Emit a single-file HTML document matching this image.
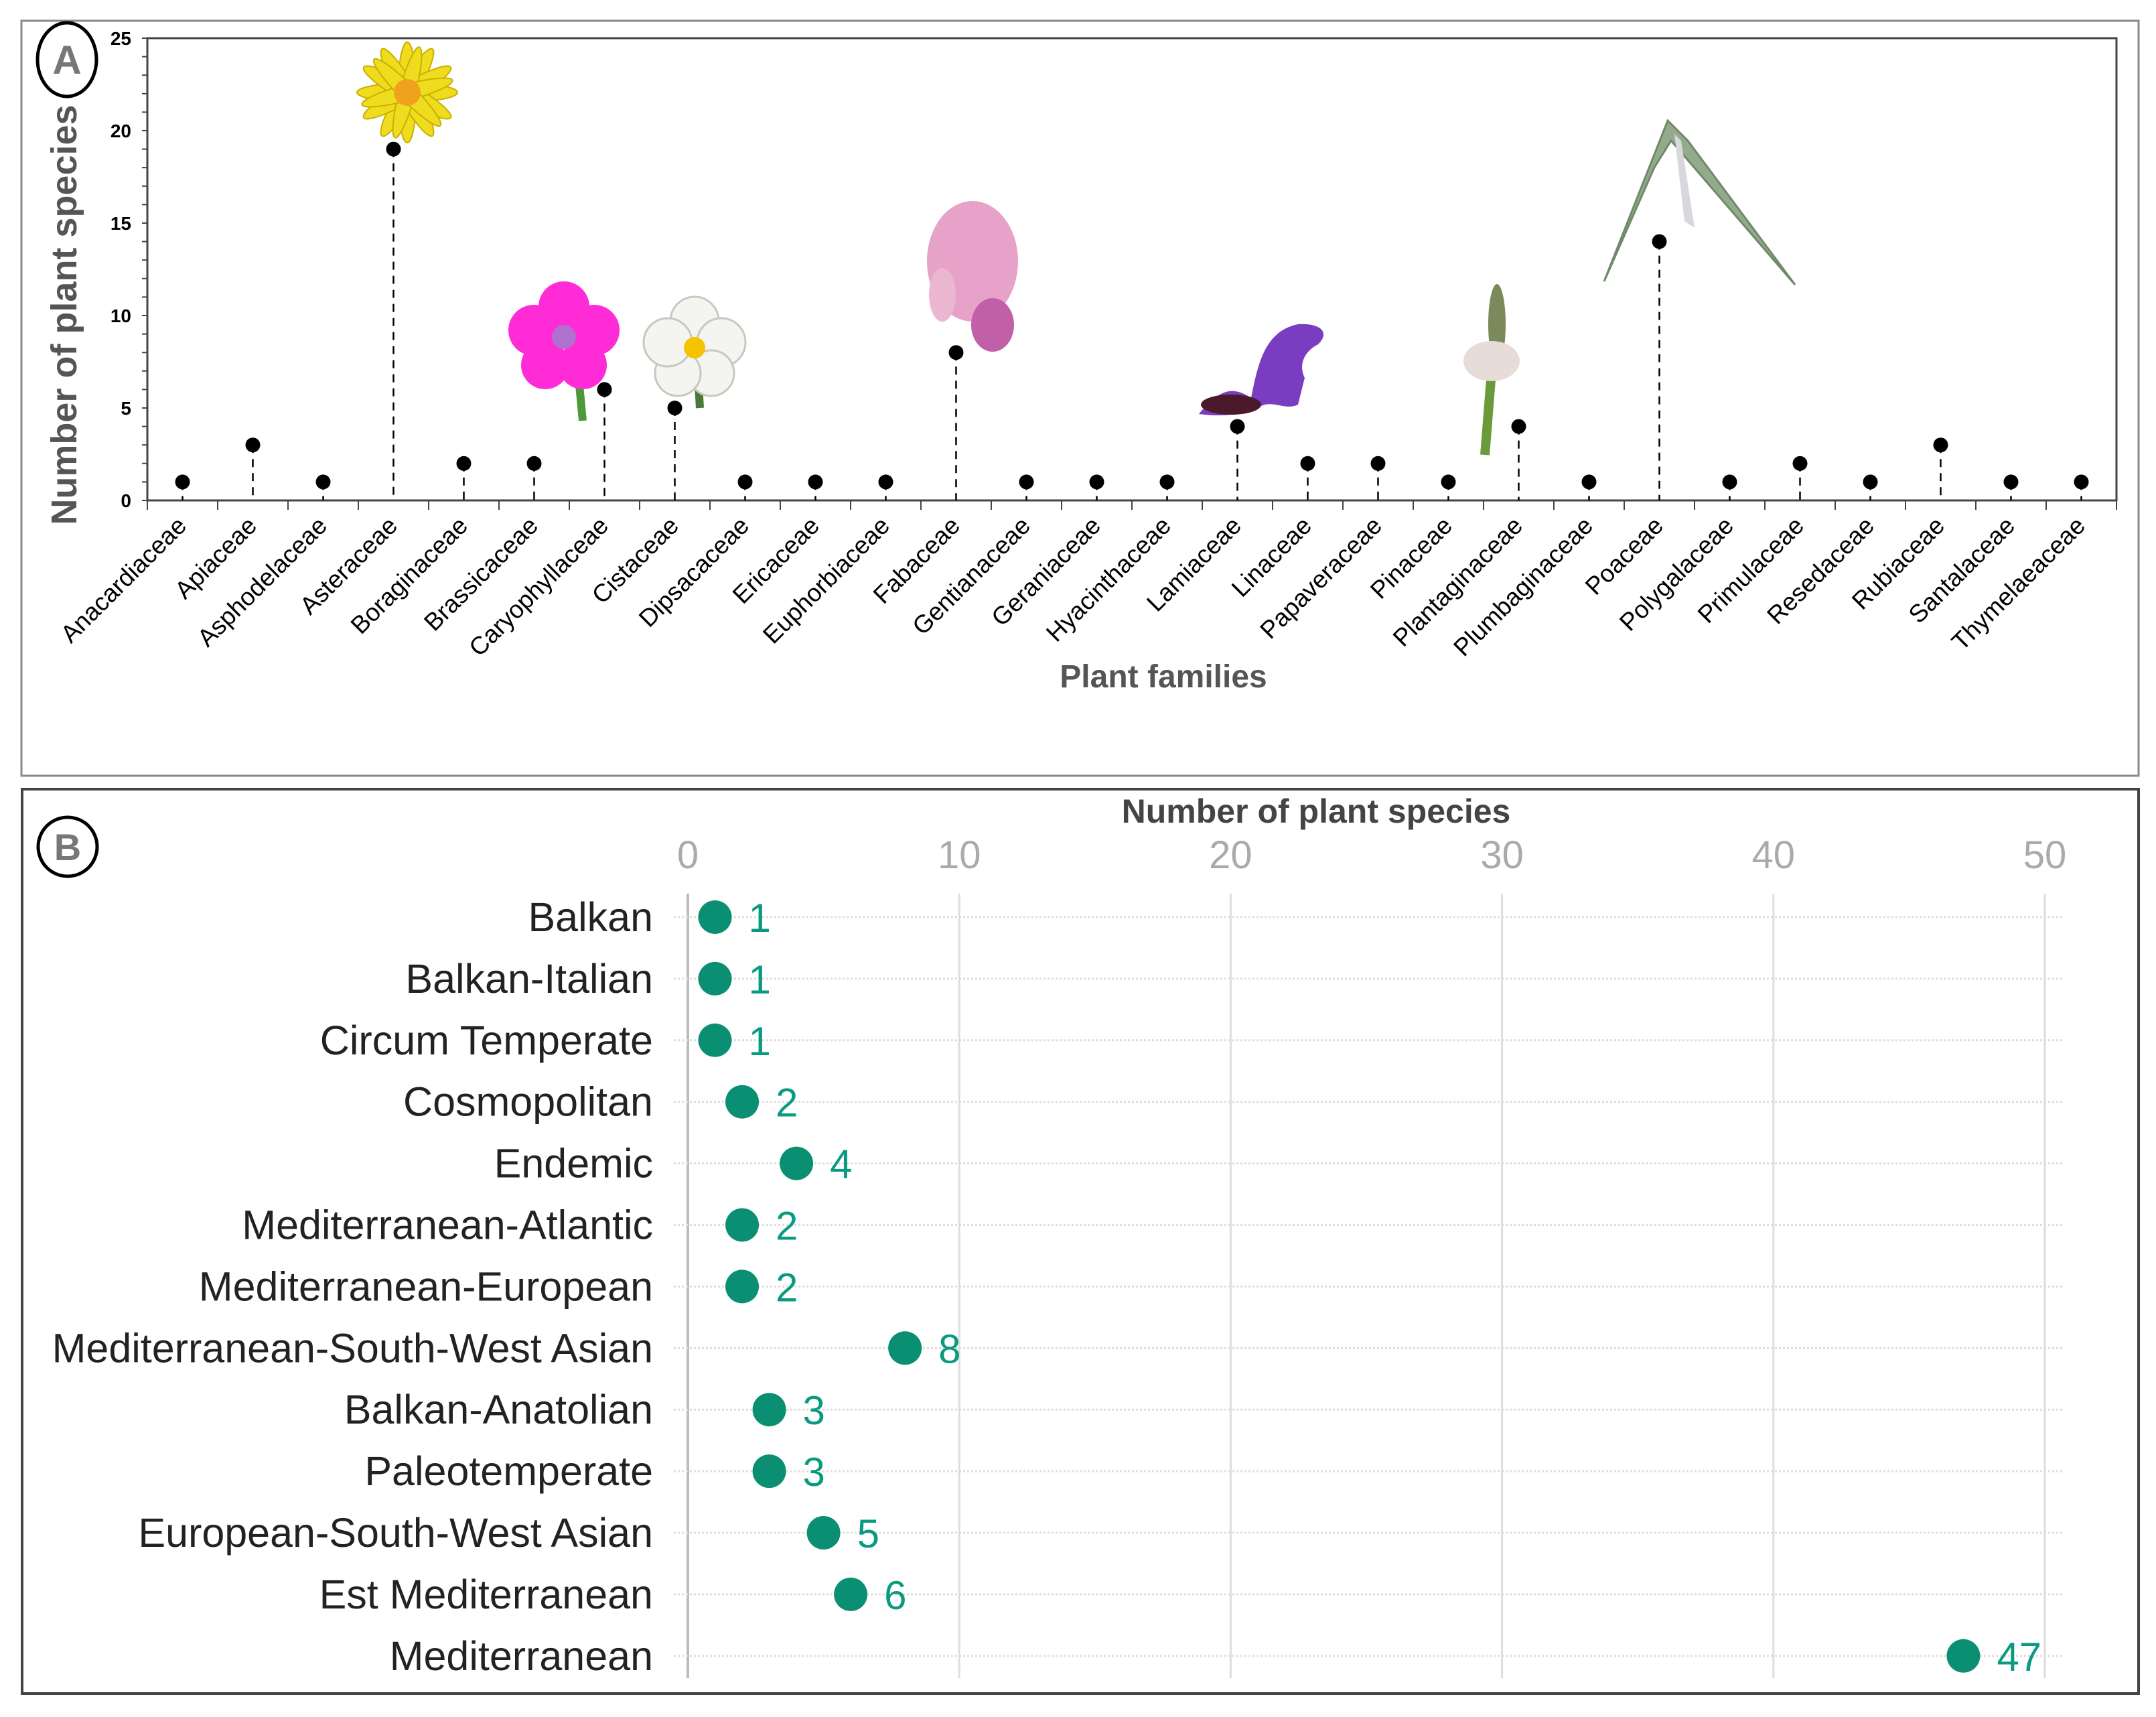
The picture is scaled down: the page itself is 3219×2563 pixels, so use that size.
<!DOCTYPE html>
<html><head><meta charset="utf-8"><style>
body{margin:0;background:#fff;}
svg text{font-family:"Liberation Sans",sans-serif;}
</style></head><body>
<svg id="fig" width="3219" height="2558" viewBox="0 0 3219 2558" xmlns="http://www.w3.org/2000/svg">
<rect x="0" y="0" width="3219" height="2558" fill="#fff"/>
<rect x="32" y="31" width="3161" height="1127" fill="none" stroke="#888" stroke-width="3"/>
<rect x="33" y="1178" width="3160" height="1350" fill="none" stroke="#444" stroke-width="4"/>
<g><ellipse cx="100" cy="89" rx="44" ry="55" fill="none" stroke="#000" stroke-width="5"/><text x="100" y="110" font-size="60" font-weight="bold" fill="#777" text-anchor="middle">A</text></g>
<g><ellipse cx="101" cy="1264" rx="44" ry="44" fill="none" stroke="#000" stroke-width="5"/><text x="101" y="1284" font-size="56" font-weight="bold" fill="#777" text-anchor="middle">B</text></g>

<g transform="translate(608,138)">
<g fill="#f0dc1e" stroke="#c9b000" stroke-width="2">
<ellipse rx="14" ry="75" transform="rotate(0)"/><ellipse rx="14" ry="75" transform="rotate(30)"/><ellipse rx="14" ry="75" transform="rotate(60)"/><ellipse rx="14" ry="75" transform="rotate(90)"/><ellipse rx="14" ry="75" transform="rotate(120)"/><ellipse rx="14" ry="75" transform="rotate(150)"/><ellipse rx="12" ry="70" transform="rotate(15)"/><ellipse rx="12" ry="70" transform="rotate(75)"/><ellipse rx="12" ry="70" transform="rotate(135)"/></g>
<circle r="20" fill="#f0a21e"/></g>
<g transform="translate(842,503)">
<line x1="20" y1="40" x2="28" y2="125" stroke="#4a9a3a" stroke-width="12"/>
<g fill="#ff2bd6"><circle cx="0" cy="-45" r="38"/><circle cx="45" cy="-10" r="38"/><circle cx="28" cy="42" r="36"/><circle cx="-28" cy="42" r="36"/><circle cx="-45" cy="-10" r="38"/></g>
<circle r="18" fill="#b070d0"/></g>
<g transform="translate(1037,519)">
<line x1="5" y1="40" x2="8" y2="90" stroke="#4a7a3a" stroke-width="12"/>
<g fill="#f4f4f0" stroke="#c8c8c0" stroke-width="3"><circle cx="0" cy="-40" r="36"/><circle cx="40" cy="-8" r="36"/><circle cx="25" cy="38" r="34"/><circle cx="-25" cy="38" r="34"/><circle cx="-40" cy="-8" r="36"/></g>
<circle r="16" fill="#f5c400"/></g>
<g transform="translate(1447,410)">
<ellipse cx="5" cy="-20" rx="68" ry="90" fill="#e6a2c8"/>
<ellipse cx="35" cy="75" rx="32" ry="40" fill="#c160a8"/>
<ellipse cx="-40" cy="30" rx="20" ry="40" fill="#eab6d0"/></g>
<g transform="translate(1878,554)">
<path d="M-88,64 C-60,30 -40,20 -10,40 C0,-10 10,-60 60,-70 C90,-72 110,-60 90,-40 C70,-30 60,-10 70,10 L60,50 C40,60 20,40 0,55 C-40,70 -70,66 -88,64 Z" fill="#7a3cc0"/>
<ellipse cx="-40" cy="50" rx="45" ry="15" fill="#4a1a2a"/></g>
<g transform="translate(2227,554)">
<line x1="0" y1="0" x2="-10" y2="125" stroke="#6a9a3a" stroke-width="14"/>
<ellipse cx="8" cy="-70" rx="13" ry="60" fill="#7a8a5a"/>
<ellipse cx="0" cy="-15" rx="42" ry="30" fill="#e8dcd8"/></g>
<g transform="translate(2490,180)">
<path d="M0,0 L-95,240 L-20,70 L5,30 L190,245 L30,30 Z" fill="#94aa8c" stroke="#708a68" stroke-width="3"/>
<path d="M10,20 L25,150 L40,160 L20,30 Z" fill="#d6d8de"/></g>

<g id="chartA"></g>
<g id="chartB"></g>
</svg>
<script>
const famNames=["Anacardiaceae","Apiaceae","Asphodelaceae","Asteraceae","Boraginaceae","Brassicaceae","Caryophyllaceae","Cistaceae","Dipsacaceae","Ericaceae","Euphorbiaceae","Fabaceae","Gentianaceae","Geraniaceae","Hyacinthaceae","Lamiaceae","Linaceae","Papaveraceae","Pinaceae","Plantaginaceae","Plumbaginaceae","Poaceae","Polygalaceae","Primulaceae","Resedaceae","Rubiaceae","Santalaceae","Thymelaeaceae"];
const famCounts=[1,3,1,19,2,2,6,5,1,1,1,8,1,1,1,4,2,2,1,4,1,14,1,2,1,3,1,1];
const yTicksA=[0,5,10,15,20,25];
const regNames=["Balkan","Balkan-Italian","Circum Temperate","Cosmopolitan","Endemic","Mediterranean-Atlantic","Mediterranean-European","Mediterranean-South-West Asian","Balkan-Anatolian","Paleotemperate","European-South-West Asian","Est Mediterranean","Mediterranean"];
const regCounts=[1,1,1,2,4,2,2,8,3,3,5,6,47];
const xTicksB=[0,10,20,30,40,50];

const NS="http://www.w3.org/2000/svg";
function mk(parent,tag,attrs,txt){const e=document.createElementNS(NS,tag);for(const k in attrs)e.setAttribute(k,attrs[k]);if(txt!==undefined)e.textContent=txt;parent.appendChild(e);return e;}

const A=document.getElementById('chartA');
const aL=220,aR=3160,aT=57,aB=747;
const bw=(aR-aL)/famNames.length;
const xA=i=>aL+bw*(i+0.5);
const yA=v=>aB-(aB-aT)*v/25;
mk(A,'rect',{x:aL,y:aT,width:aR-aL,height:aB-aT,fill:'none',stroke:'#444','stroke-width':3});
for(let v=0;v<=25;v++){mk(A,'line',{x1:aL-8,x2:aL,y1:yA(v),y2:yA(v),stroke:'#444','stroke-width':2});}
yTicksA.forEach(v=>{const t=mk(A,'text',{x:aL-24,y:yA(v)+10,'font-size':28,'font-weight':'bold','text-anchor':'end',fill:'#000'},String(v));

});
for(let i=0;i<=famNames.length;i++){mk(A,'line',{x1:aL+bw*i,x2:aL+bw*i,y1:aB,y2:aB+14,stroke:'#444','stroke-width':2});}
famNames.forEach((n,i)=>{
 const x=xA(i),y=yA(famCounts[i]);
 const s=mk(A,'line',{x1:x,x2:x,y1:y,y2:aB,stroke:'#000','stroke-width':2.5,'stroke-dasharray':'12,9'});
 
 
 const c=mk(A,'circle',{cx:x,cy:y,r:11,fill:'#000'});
 
 
 const t=mk(A,'text',{x:x+8,y:aB+40,'font-size':37,'text-anchor':'end',fill:'#000',transform:`rotate(-45 ${x+8} ${aB+40})`},n);
 
 
});
let ta=mk(A,'text',{x:1737,y:1026,'font-size':48,'font-weight':'bold','text-anchor':'middle',fill:'#555'},'Plant families');


ta=mk(A,'text',{x:0,y:0,'font-size':54,'font-weight':'bold','text-anchor':'middle',fill:'#555',transform:'translate(114,470) rotate(-90)'},'Number of plant species');



const B=document.getElementById('chartB');
const bX0=1027,bX50=3053,rowTop=1369,rowStep=91.9;
const xB=v=>bX0+(bX50-bX0)*v/50;
const yB=i=>rowTop+rowStep*i;
xTicksB.forEach(v=>{
 mk(B,'line',{x1:xB(v),x2:xB(v),y1:1334,y2:2505,stroke:v===0?'#bbb':'#ddd','stroke-width':v===0?4:3});
 const t=mk(B,'text',{x:xB(v),y:1296,'font-size':58,'text-anchor':'middle',fill:'#aaa'},String(v));
 
 
});
let tb=mk(B,'text',{x:1965,y:1228,'font-size':50,'font-weight':'bold','text-anchor':'middle',fill:'#444'},'Number of plant species');


regNames.forEach((n,i)=>{
 const y=yB(i),v=regCounts[i];
 mk(B,'line',{x1:1006,x2:3080,y1:y,y2:y,stroke:'#ddd','stroke-width':3,'stroke-dasharray':'3,3'});
 const l=mk(B,'text',{x:975,y:y+21,'font-size':61,'text-anchor':'end',fill:'#222'},n);
 
 
 const c=mk(B,'circle',{cx:xB(v),cy:y,r:25,fill:'#0a8f73'});
 
 
 const t=mk(B,'text',{x:xB(v)+50,y:y+22,'font-size':60,fill:'#0a9a80'},String(v));
 
 
});
</script>
</body></html>
